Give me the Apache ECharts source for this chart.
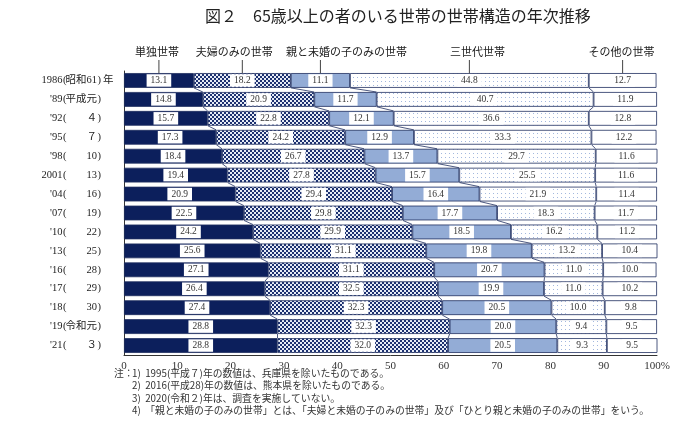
<!DOCTYPE html>
<html><head><meta charset="utf-8">
<script src="https://cdn.jsdelivr.net/npm/echarts@6/dist/echarts.min.js"></script>
<style>html,body{margin:0;padding:0;background:#fff}#c{width:700px;height:425px}</style>
</head><body><div id="c"></div>
<script>
// ---- data ----
const years = ["1986", "'89", "'92", "'95", "'98", "2001", "'04", "'07", "'10", "'13", "'16", "'17", "'18", "'19", "'21"];
const eras = ["昭和61", "平成元", "４", "７", "10", "13", "16", "19", "22", "25", "28", "29", "30", "令和元", "３"];
const seriesNames = ["単独世帯", "夫婦のみの世帯", "親と未婚の子のみの世帯", "三世代世帯", "その他の世帯"];
const single      = [13.1, 14.8, 15.7, 17.3, 18.4, 19.4, 20.9, 22.5, 24.2, 25.6, 27.1, 26.4, 27.4, 28.8, 28.8];
const couple      = [18.2, 20.9, 22.8, 24.2, 26.7, 27.8, 29.4, 29.8, 29.9, 31.1, 31.1, 32.5, 32.3, 32.3, 32.0];
const parentChild = [11.1, 11.7, 12.1, 12.9, 13.7, 15.7, 16.4, 17.7, 18.5, 19.8, 20.7, 19.9, 20.5, 20.0, 20.5];
const threeGen    = [44.8, 40.7, 36.6, 33.3, 29.7, 25.5, 21.9, 18.3, 16.2, 13.2, 11.0, 11.0, 10.0, 9.4, 9.3];
const other       = [12.7, 11.9, 12.8, 12.2, 11.6, 11.6, 11.4, 11.7, 11.2, 10.4, 10.0, 10.2, 9.8, 9.5, 9.5];
const xMin = 0, xMax = 100, xStep = 10;
const titleText = "図２　65歳以上の者のいる世帯の世帯構造の年次推移";
const notes = [
  "1)  1995(平成７)年の数値は、兵庫県を除いたものである。",
  "2)  2016(平成28)年の数値は、熊本県を除いたものである。",
  "3)  2020(令和２)年は、調査を実施していない。",
  "4)  「親と未婚の子のみの世帯」とは、「夫婦と未婚の子のみの世帯」及び「ひとり親と未婚の子のみの世帯」をいう。"
];

const allSeries = [single, couple, parentChild, threeGen, other];
const categories = years.map((y, i) => y + "(" + eras[i] + ")" + (i === 0 ? "年" : ""));
const cum = years.map((_, i) => {
  const out = [0];
  allSeries.forEach(s => out.push(out[out.length - 1] + s[i]));
  return out;
});

// ---- styles ----
const NAVY = '#0c1f5c';
const EDGE = '#1f2f5f';
const LIGHT = '#93acd6';
const SERIF = "'Liberation Serif','Noto Sans CJK JP',serif";
const JP = "'Noto Sans CJK JP','Liberation Serif',sans-serif";
const BAR_RATIO = 0.78;

function checker() {
  const c = document.createElement('canvas'); c.width = 4; c.height = 4;
  const g = c.getContext('2d');
  g.fillStyle = '#e6ebf5'; g.fillRect(0, 0, 4, 4);
  g.fillStyle = '#1d3170'; g.fillRect(0, 0, 2, 2); g.fillRect(2, 2, 2, 2);
  return c;
}
function dots() {
  const c = document.createElement('canvas'); c.width = 4; c.height = 4;
  const g = c.getContext('2d');
  g.fillStyle = '#ffffff'; g.fillRect(0, 0, 4, 4);
  g.fillStyle = '#a3b8de'; g.fillRect(1, 1, 1, 1);
  return c;
}
const fills = [NAVY, { image: checker(), repeat: 'repeat' }, LIGHT, { image: dots(), repeat: 'repeat' }, '#ffffff'];

const chart = echarts.init(document.getElementById('c'), null, { renderer: 'canvas' });

const barSeries = allSeries.map((s, k) => ({
  name: seriesNames[k],
  type: 'bar',
  stack: 'total',
  data: s,
  barWidth: (BAR_RATIO * 100) + '%',
  itemStyle: { color: fills[k], borderColor: EDGE, borderWidth: 0.8 },
  label: {
    show: true, position: 'inside',
    formatter: p => p.value.toFixed(1),
    backgroundColor: '#ffffff', padding: [2, 4, 1, 4],
    color: '#333', fontFamily: SERIF, fontSize: 9.5
  },
  emphasis: { disabled: true },
  silent: true,
  z: 2
}));

const connectorSeries = {
  type: 'custom',
  silent: true,
  z: 3,
  data: years.slice(0, -1).map((_, i) => [i]),
  renderItem: function (params, api) {
    const i = params.dataIndex;
    const band = api.size([0, 1])[1];
    const h = band * BAR_RATIO / 2;
    const children = [];
    for (let k = 1; k <= 4; k++) {
      const a = api.coord([cum[i][k], i]);
      const b = api.coord([cum[i + 1][k], i + 1]);
      children.push({
        type: 'line',
        shape: { x1: a[0], y1: a[1] + h, x2: b[0], y2: b[1] - h },
        style: { stroke: EDGE, lineWidth: 0.8 }
      });
    }
    return { type: 'group', children: children };
  }
};

const labelOffsets = [-2, -8, 26, 8, -1];
const calloutSeries = {
  type: 'custom',
  silent: true,
  z: 4,
  clip: false,
  data: [[0]],
  renderItem: function (params, api) {
    const band = api.size([0, 1])[1];
    const h = band * BAR_RATIO / 2;
    const children = [];
    for (let k = 0; k < 5; k++) {
      const mid = (cum[0][k] + cum[0][k + 1]) / 2;
      const p = api.coord([mid, 0]);
      children.push({
        type: 'line',
        shape: { x1: p[0], y1: 60, x2: p[0], y2: p[1] - h },
        style: { stroke: '#444', lineWidth: 1 }
      });
      children.push({
        type: 'text',
        x: p[0] + labelOffsets[k], y: 52,
        style: { text: seriesNames[k], fill: '#222', font: "11px " + JP, textAlign: 'center', textVerticalAlign: 'middle' }
      });
    }
    return { type: 'group', children: children };
  }
};

const yLabelFont = "10.5px " + SERIF;
const yLabelSeries = {
  type: 'custom',
  silent: true,
  z: 4,
  clip: false,
  data: years.map((_, i) => [i]),
  renderItem: function (params, api) {
    const i = params.dataIndex;
    const p = api.coord([xMin, i]);
    const x0 = p[0], y = p[1];
    const mk = (text, x, align) => ({
      type: 'text', x: x, y: y,
      style: { text: text, fill: '#222', font: yLabelFont, textAlign: align, textVerticalAlign: 'middle' }
    });
    const children = [
      mk(years[i], x0 - 61.5, 'right'),
      mk('(', x0 - 61, 'left'),
      mk(eras[i], x0 - 27, 'right'),
      mk(')', x0 - 26.5, 'left')
    ];
    if (i === 0) children.push(mk('年', x0 - 21, 'left'));
    return { type: 'group', children: children };
  }
};

const option = {
  backgroundColor: '#ffffff',
  animation: false,
  grid: { left: 124, right: 43, top: 71, bottom: 70, containLabel: false },
  xAxis: {
    type: 'value', min: xMin, max: xMax, interval: xStep,
    axisLine: { show: true, lineStyle: { color: '#333', width: 1 } },
    axisTick: { show: false },
    splitLine: { show: false },
    axisLabel: {
      color: '#333', fontFamily: SERIF, fontSize: 11, margin: 6,
      formatter: v => v === xMax ? v + '%' : String(v)
    }
  },
  yAxis: {
    type: 'category', data: categories, inverse: true,
    axisLine: { show: true, lineStyle: { color: '#333', width: 1 } },
    axisTick: { show: false },
    axisLabel: { show: false }
  },
  graphic: [
    { type: 'text', left: 205, top: 8, style: { text: titleText, fill: '#222', font: "16px " + JP } },
    { type: 'text', x: 114, y: 373, style: { text: '注：', fill: '#333', font: "9.8px " + JP, textVerticalAlign: 'middle' } }
  ].concat(notes.map((t, i) => ({
    type: 'text', x: 132, y: 373 + i * 12.5,
    style: { text: t, fill: '#333', font: "9.8px " + JP, textVerticalAlign: 'middle' }
  }))),
  series: barSeries.concat([connectorSeries, calloutSeries, yLabelSeries])
};
chart.setOption(option);
</script>
</body></html>
